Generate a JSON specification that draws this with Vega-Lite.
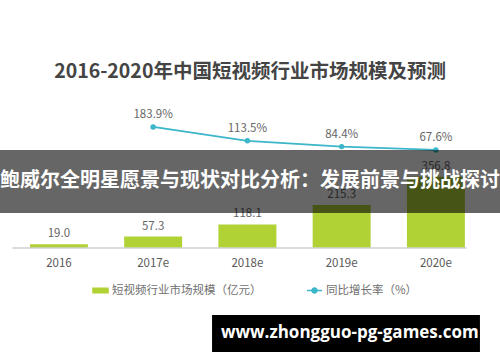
{
  "$schema": "https://vega.github.io/schema/vega-lite/v6.json",
  "width": 500,
  "height": 148,
  "autosize": {"type": "none"},
  "padding": {"top": 100, "left": 0, "right": 0, "bottom": 114},
  "background": "white",
  "title": {
    "text": "2016-2020年中国短视频行业市场规模及预测",
    "font": "Noto Sans CJK SC",
    "fontSize": 19.5,
    "fontWeight": "bold",
    "color": "#444444",
    "anchor": "middle",
    "offset": 18
  },
  "data": {
    "values": [
      {"year": "2016", "scale": 19.0, "growth": null},
      {"year": "2017e", "scale": 57.3, "growth": 183.9},
      {"year": "2018e", "scale": 118.1, "growth": 113.5},
      {"year": "2019e", "scale": 215.3, "growth": 84.4},
      {"year": "2020e", "scale": 356.8, "growth": 67.6}
    ]
  },
  "config": {
    "view": {"stroke": null},
    "font": "Noto Sans CJK SC"
  },
  "layer": [
    {
      "encoding": {
        "x": {
          "field": "year",
          "type": "nominal",
          "sort": null,
          "scale": {"domain": ["2016", "2017e", "2018e", "2019e", "2020e"], "paddingInner": 0.385, "paddingOuter": 0.345, "align": 0.46},
          "axis": {
            "title": null,
            "labelAngle": 0,
            "domain": false,
            "ticks": false,
            "grid": false,
            "labelFontSize": 11.5,
            "labelColor": "#595959",
            "labelPadding": 9,
            "labelFont": "Noto Sans CJK SC"
          }
        }
      },
      "layer": [
        {
          "mark": {"type": "bar"},
          "encoding": {
            "y": {"field": "scale", "type": "quantitative", "scale": {"domain": [0, 740], "nice": false, "zero": false}, "axis": null},
            "color": {
              "datum": "短视频行业市场规模（亿元）",
              "type": "nominal",
              "scale": {"domain": ["短视频行业市场规模（亿元）", "同比增长率（%）"], "range": ["#b0d235", "#3cb6c9"]},
              "legend": {
                "orient": "none",
                "legendX": 92,
                "legendY": 182,
                "direction": "horizontal",
                "title": null,
                "labelFontSize": 11.5,
                "labelColor": "#707070",
                "labelFont": "Noto Sans CJK SC",
                "labelLimit": 0,
                "labelOffset": 3,
                "columnPadding": 42,
                "symbolSize": 225,
                "encode": {
                  "symbols": {
                    "update": {
                      "shape": {"signal": "datum.value === '同比增长率（%）' ? 'M-1,0H1M-0.33,0A0.33,0.33 0 1,0 0.33,0A0.33,0.33 0 1,0 -0.33,0' : 'M-1,-0.3H1V0.3H-1Z'"},
                      "fill": {"signal": "datum.value === '同比增长率（%）' ? '#3cb6c9' : '#b0d235'"},
                      "stroke": {"signal": "datum.value === '同比增长率（%）' ? '#3cb6c9' : '#b0d235'"},
                      "strokeWidth": {"value": 1.5},
                      "opacity": {"value": 1}
                    }
                  }
                }
              }
            }
          }
        },
        {
          "mark": {"type": "text", "baseline": "bottom", "dy": -5, "fontSize": 11.5, "color": "#666666"},
          "encoding": {
            "y": {"field": "scale", "type": "quantitative", "scale": {"domain": [0, 740], "nice": false, "zero": false}, "axis": null},
            "text": {"field": "scale", "type": "quantitative", "format": ".1f"}
          }
        }
      ]
    },
    {
      "transform": [
        {"filter": "isValid(datum.growth)"},
        {"calculate": "format(datum.growth, '.1f') + '%'", "as": "growthLabel"}
      ],
      "encoding": {
        "x": {"field": "year", "type": "nominal", "sort": null}
      },
      "layer": [
        {
          "mark": {"type": "line", "strokeWidth": 1.8, "point": {"filled": true, "size": 30}},
          "encoding": {
            "y": {"field": "growth", "type": "quantitative", "scale": {"domain": [-428, 320], "nice": false, "zero": false}, "axis": null},
            "color": {"datum": "同比增长率（%）", "type": "nominal"}
          }
        },
        {
          "mark": {"type": "text", "baseline": "bottom", "dy": -7, "fontSize": 11.5, "color": "#666666"},
          "encoding": {
            "y": {"field": "growth", "type": "quantitative", "scale": {"domain": [-428, 320], "nice": false, "zero": false}, "axis": null},
            "text": {"field": "growthLabel", "type": "nominal"}
          }
        }
      ]
    },
    {
      "data": {"values": [{"item": "overlay"}]},
      "layer": [
        {
          "mark": {"type": "rule", "color": "#d0d0d0", "strokeWidth": 1.5},
          "encoding": {
            "x": {"datum": "2016", "bandPosition": -0.3},
            "x2": {"datum": "2020e", "bandPosition": 1.03},
            "y": {"datum": 0, "type": "quantitative", "scale": {"domain": [0, 740], "nice": false, "zero": false}, "axis": null}
          }
        },
        {
          "mark": {"type": "rect", "color": "black", "opacity": 0.6},
          "encoding": {
            "y": {"datum": 175, "type": "quantitative", "scale": {"domain": [0, 740], "nice": false, "zero": false}, "axis": null},
            "y2": {"datum": 490}
          }
        },
        {
          "mark": {"type": "text", "text": "鲍威尔全明星愿景与现状对比分析：发展前景与挑战探讨", "fontSize": 20, "fontWeight": "bold", "color": "white", "baseline": "middle", "font": "Noto Sans CJK SC"},
          "encoding": {
            "y": {"datum": 333, "type": "quantitative", "scale": {"domain": [0, 740], "nice": false, "zero": false}, "axis": null}
          }
        },
        {
          "mark": {"type": "rect", "color": "black", "opacity": 1},
          "encoding": {
            "x": {"datum": "2018e", "bandPosition": -0.11},
            "x2": {"datum": "2020e", "bandPosition": 1.26},
            "y": {"datum": -335, "type": "quantitative", "scale": {"domain": [0, 740], "nice": false, "zero": false}, "axis": null},
            "y2": {"datum": -520}
          }
        },
        {
          "mark": {"type": "text", "text": "www.zhongguo-pg-games.com", "fontSize": 17, "fontWeight": "bold", "color": "white", "baseline": "middle", "font": "Open Sans"},
          "encoding": {
            "x": {"datum": "2019e", "bandPosition": 0.64},
            "y": {"datum": -425, "type": "quantitative", "scale": {"domain": [0, 740], "nice": false, "zero": false}, "axis": null}
          }
        }
      ]
    }
  ],
  "resolve": {"scale": {"y": "independent"}}
}
